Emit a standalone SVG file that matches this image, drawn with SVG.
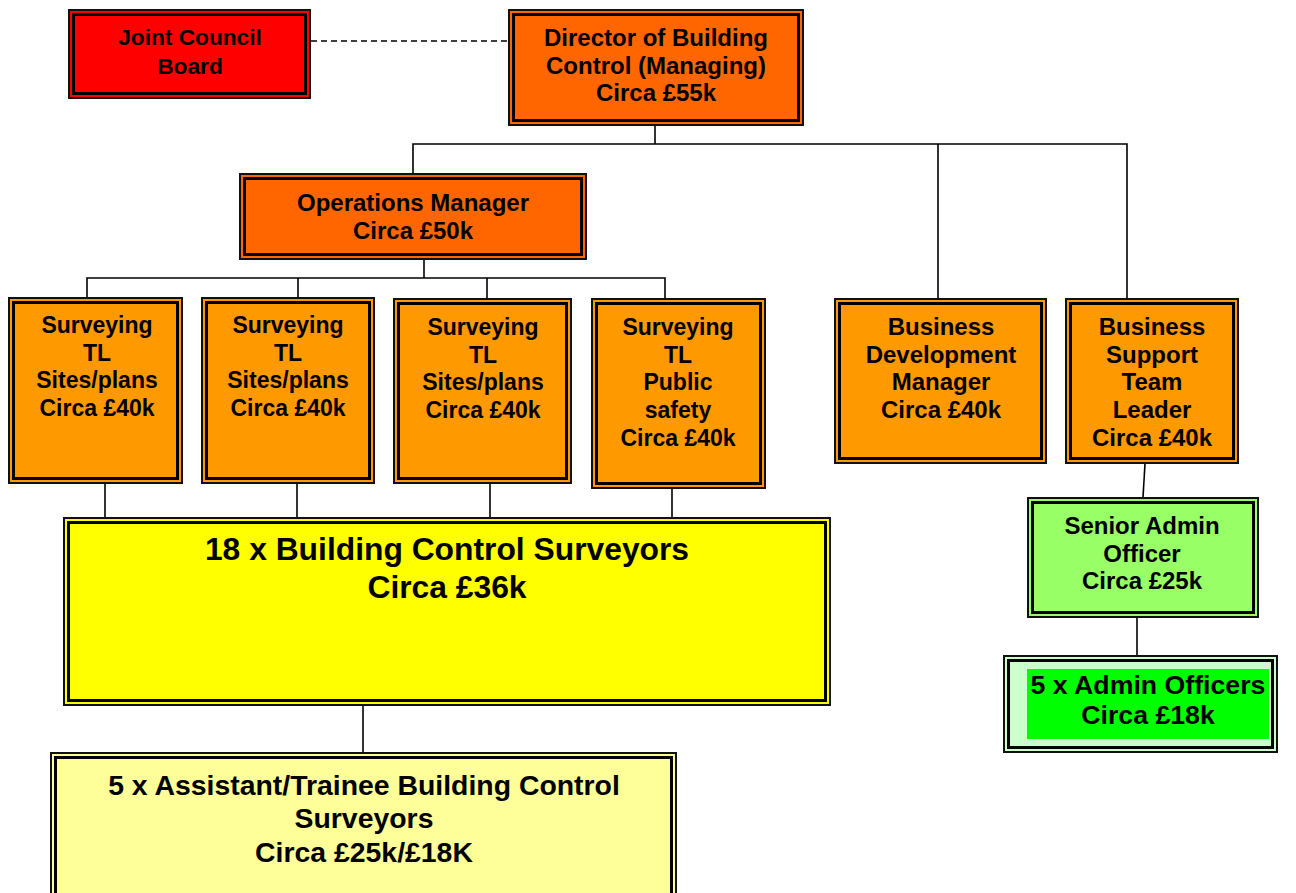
<svg xmlns="http://www.w3.org/2000/svg" width="1296" height="893" viewBox="0 0 1296 893">
<style>
.o{stroke:#111;stroke-width:2}
.i{fill:none;stroke:#000;stroke-width:3}
text{font-family:"Liberation Sans",Arial,sans-serif;font-weight:bold;fill:#000;text-anchor:middle}
.s{font-size:24px}
.t{font-size:23px}
.c{stroke:#000;stroke-width:1.6;fill:none}
</style>
<rect width="1296" height="893" fill="#fff"/>
<g id="connectors">
<line class="c" x1="311" y1="41" x2="508" y2="41" stroke-dasharray="6,4"/>
<polyline class="c" points="655,126 655,144"/>
<polyline class="c" points="413,173 413,144 1127,144 1127,298"/>
<line class="c" x1="938" y1="144" x2="938" y2="298"/>
<polyline class="c" points="424,260 424,278"/>
<polyline class="c" points="87,297 87,278 665,278 665,298"/>
<line class="c" x1="298" y1="278" x2="298" y2="297"/>
<line class="c" x1="487" y1="278" x2="487" y2="298"/>
<line class="c" x1="105" y1="484" x2="105" y2="517"/>
<line class="c" x1="297" y1="484" x2="297" y2="517"/>
<line class="c" x1="490" y1="484" x2="490" y2="517"/>
<line class="c" x1="672" y1="489" x2="672" y2="517"/>
<line class="c" x1="363" y1="706" x2="363" y2="752"/>
<line class="c" x1="1145" y1="464" x2="1143" y2="497"/>
<line class="c" x1="1137" y1="618" x2="1137" y2="655"/>
</g>
<g id="joint-council">
<rect class="o" x="69" y="10" width="241" height="88" fill="#FF0000"/>
<rect class="i" x="73.5" y="14.5" width="232" height="79"/>
<text x="190" y="45" font-size="22.7px">Joint Council</text>
<text x="190" y="74" font-size="22.7px">Board</text>
</g>
<g id="director">
<rect class="o" x="509" y="10" width="294" height="115" fill="#FF6600"/>
<rect class="i" x="513.5" y="14.5" width="285" height="106"/>
<text class="s" x="656" y="46">Director of Building</text>
<text class="s" x="656" y="74">Control (Managing)</text>
<text class="s" x="656" y="101">Circa £55k</text>
</g>
<g id="ops-manager">
<rect class="o" x="240" y="174" width="346" height="85" fill="#FF6600"/>
<rect class="i" x="244.5" y="178.5" width="337" height="76"/>
<text class="s" x="413" y="211">Operations Manager</text>
<text class="s" x="413" y="239">Circa £50k</text>
</g>
<g id="tl1">
<rect class="o" x="9" y="298" width="173" height="185" fill="#FF9900"/>
<rect class="i" x="13.5" y="302.5" width="164" height="176"/>
<text class="t" x="97" y="333">Surveying</text>
<text class="t" x="97" y="361">TL</text>
<text class="t" x="97" y="388">Sites/plans</text>
<text class="t" x="97" y="416">Circa £40k</text>
</g>
<g id="tl2">
<rect class="o" x="202" y="298" width="172" height="185" fill="#FF9900"/>
<rect class="i" x="206.5" y="302.5" width="163" height="176"/>
<text class="t" x="288" y="333">Surveying</text>
<text class="t" x="288" y="361">TL</text>
<text class="t" x="288" y="388">Sites/plans</text>
<text class="t" x="288" y="416">Circa £40k</text>
</g>
<g id="tl3">
<rect class="o" x="394" y="299" width="177" height="184" fill="#FF9900"/>
<rect class="i" x="398.5" y="303.5" width="168" height="175"/>
<text class="t" x="483" y="335">Surveying</text>
<text class="t" x="483" y="363">TL</text>
<text class="t" x="483" y="390">Sites/plans</text>
<text class="t" x="483" y="418">Circa £40k</text>
</g>
<g id="tl4">
<rect class="o" x="592" y="299" width="173" height="189" fill="#FF9900"/>
<rect class="i" x="596.5" y="303.5" width="164" height="180"/>
<text class="t" x="678" y="335">Surveying</text>
<text class="t" x="678" y="363">TL</text>
<text class="t" x="678" y="390">Public</text>
<text class="t" x="678" y="418">safety</text>
<text class="t" x="678" y="446">Circa £40k</text>
</g>
<g id="business-dev">
<rect class="o" x="835" y="299" width="211" height="164" fill="#FF9900"/>
<rect class="i" x="839.5" y="303.5" width="202" height="155"/>
<text class="s" x="941" y="335">Business</text>
<text class="s" x="941" y="363">Development</text>
<text class="s" x="941" y="390">Manager</text>
<text class="s" x="941" y="418">Circa £40k</text>
</g>
<g id="business-support">
<rect class="o" x="1066" y="299" width="172" height="164" fill="#FF9900"/>
<rect class="i" x="1070.5" y="303.5" width="163" height="155"/>
<text class="s" x="1152" y="335">Business</text>
<text class="s" x="1152" y="363">Support</text>
<text class="s" x="1152" y="390">Team</text>
<text class="s" x="1152" y="418">Leader</text>
<text class="s" x="1152" y="446">Circa £40k</text>
</g>
<g id="surveyors">
<rect class="o" x="64" y="518" width="766" height="187" fill="#FFFF00"/>
<rect class="i" x="68.5" y="522.5" width="757" height="178"/>
<text x="447" y="560" font-size="31.8px">18 x Building Control Surveyors</text>
<text x="447" y="598" font-size="31.8px">Circa £36k</text>
</g>
<g id="assistants">
<rect class="o" x="51" y="753" width="625" height="150" fill="#FFFF99"/>
<rect class="i" x="55.5" y="757.5" width="616" height="150"/>
<text x="364" y="795" font-size="28.4px">5 x Assistant/Trainee Building Control</text>
<text x="364" y="828" font-size="28.4px">Surveyors</text>
<text x="364" y="862" font-size="28.4px">Circa £25k/£18K</text>
</g>
<g id="senior-admin">
<rect class="o" x="1028" y="498" width="230" height="119" fill="#99FF66"/>
<rect class="i" x="1032.5" y="502.5" width="221" height="110"/>
<text class="s" x="1142" y="534">Senior Admin</text>
<text class="s" x="1142" y="562">Officer</text>
<text class="s" x="1142" y="589">Circa £25k</text>
</g>
<g id="admin-officers">
<rect class="o" x="1004" y="656" width="273" height="96" fill="#CCFFCC"/>
<rect class="i" x="1008.5" y="660.5" width="264" height="87"/>
<rect x="1027" y="669" width="242" height="70" fill="#00FF00"/>
<text x="1148" y="694" font-size="26.7px">5 x Admin Officers</text>
<text x="1148" y="724" font-size="26.7px">Circa £18k</text>
</g>
</svg>
